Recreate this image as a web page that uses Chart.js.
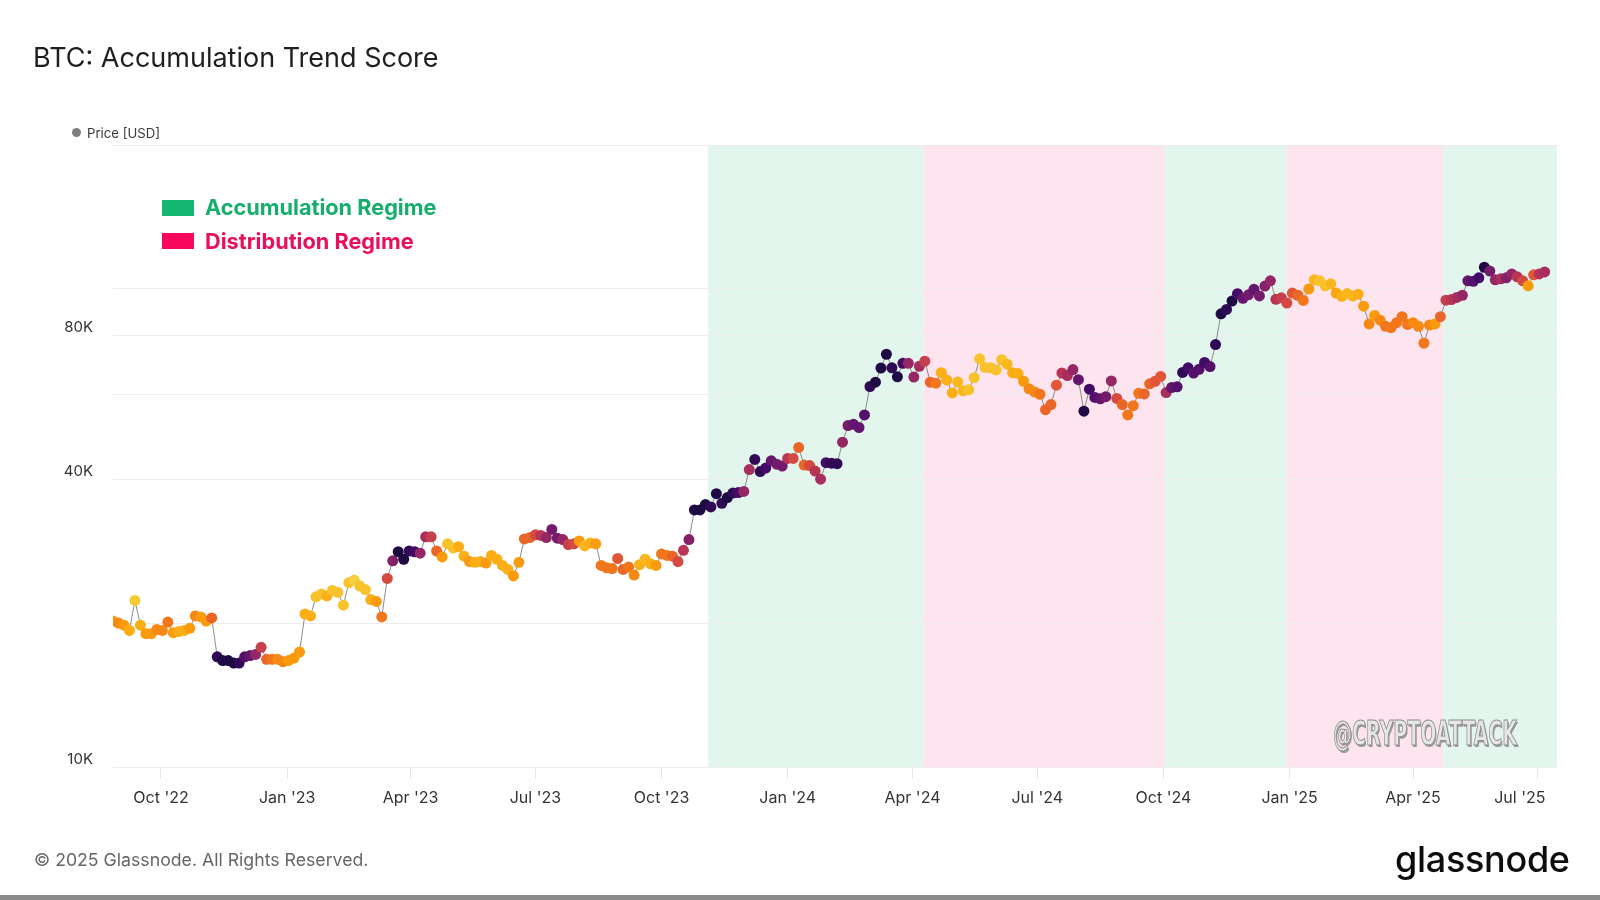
<!DOCTYPE html>
<html>
<head>
<meta charset="utf-8">
<title>BTC: Accumulation Trend Score</title>
<script src="https://cdn.jsdelivr.net/npm/chart.js@4.4.1/dist/chart.umd.min.js"></script>
<style>
  html, body { margin: 0; padding: 0; background: #fff; }
  body { width: 1600px; height: 900px; position: relative; overflow: hidden; font-family: Inter, "Noto Sans", sans-serif; }
  #chart { position: absolute; left: 0; top: 0; }
  .abs { position: absolute; white-space: nowrap; line-height: 1; }
  #title { left: 33px; top: 44px; font-size: 27px; font-weight: 400; color: #1f1f1f; }
  #priceDot { left: 72px; top: 128px; width: 9px; height: 9px; border-radius: 50%; background: #7f7f7f; }
  #priceKey { left: 87px; top: 127px; font-size: 13.2px; color: #3a3a3a; }
  .swatch { position: absolute; left: 162px; width: 32px; height: 16px; }
  .regime { left: 205px; font-size: 21.7px; font-weight: 700; }
  #footer { left: 34px; top: 851px; font-size: 17.7px; color: #666; }
  #logo { left: 1395px; top: 841px; font-size: 36px; font-weight: 500; color: #0d0d0d; letter-spacing: -0.3px; }
  #mark { left: 1333px; top: 716px; font-family: "DejaVu Sans Condensed", "DejaVu Sans", sans-serif; font-size: 34px; font-weight: 700;
          color: #e6e6e6; -webkit-text-stroke: 1px #8c8c8c; text-shadow: 2px 2px 0 #9a9a9a; transform-origin: 0 0; }
  #bottomBar { position: absolute; left: 0; top: 895px; width: 1600px; height: 5px; background: #8a8a8a; }
</style>
</head>
<body>
<canvas id="chart" width="1600" height="900"></canvas>
<div id="title" class="abs">BTC: Accumulation Trend Score</div>
<div id="priceDot" class="abs"></div>
<div id="priceKey" class="abs">Price [USD]</div>
<div class="swatch" style="top:200px;background:#14b872"></div>
<div class="swatch" style="top:233px;background:#f7085d"></div>
<div class="abs regime" style="top:197px;color:#17ad6c">Accumulation Regime</div>
<div class="abs regime" style="top:231px;color:#e80f5c">Distribution Regime</div>
<div id="mark" class="abs">@CRYPTOATTACK</div>
<div id="footer" class="abs">© 2025 Glassnode. All Rights Reserved.</div>
<div id="logo" class="abs">glassnode</div>
<div id="bottomBar"></div>
<script>
// one sample every 4 days, first sample 27 Aug 2022
var startDay = Date.UTC(2022, 7, 27);
var stepDays = 4;

// BTC price, thousands of USD
var price2022 = [20.2, 20.0, 19.8, 19.3, 22.3, 19.8, 19.0, 19.0, 19.4, 19.3,
                 20.1, 19.1, 19.2, 19.3, 19.5, 20.7, 20.6, 20.2, 20.5, 17.0,
                 16.7, 16.7, 16.5, 16.5, 17.0, 17.1, 17.2, 17.8, 16.8, 16.8,
                 16.8, 16.6];
var price2023 = [16.7, 16.9, 17.4, 20.9, 20.7, 22.7, 23.0, 22.8, 23.4, 23.2,
                 21.8, 24.3, 24.6, 23.9, 23.5, 22.4, 22.2, 20.6, 24.8, 27.0,
                 28.2, 27.2, 28.3, 28.2, 28.0, 30.3, 30.3, 28.3, 27.5, 29.3,
                 28.7, 28.9, 27.6, 26.9, 26.8, 26.9, 26.7, 27.7, 27.2, 26.4,
                 25.9, 25.1, 26.8, 30.0, 30.2, 30.6, 30.5, 30.2, 31.4, 30.1,
                 29.9, 29.2, 29.3, 29.7, 29.0, 29.4, 29.3, 26.4, 26.1, 26.0,
                 27.3, 25.9, 26.2, 25.2, 26.5, 27.2, 26.6, 26.4, 27.9, 27.7,
                 27.6, 26.9, 28.4, 29.9, 34.5, 34.5, 35.4, 35.0, 37.3, 35.6,
                 36.6, 37.4, 37.5, 37.7, 41.9, 44.0, 41.5, 42.2, 43.7, 43.0,
                 42.6];
var price2024 = [44.2, 44.2, 46.6, 42.8, 42.7, 41.6, 40.0, 43.3, 43.2, 43.1,
                 47.8, 51.8, 52.1, 51.3, 54.5, 62.5, 63.8, 68.3, 73.0, 68.4,
                 65.5, 69.9, 69.9, 65.4, 68.9, 70.6, 63.8, 63.5, 66.8, 64.5,
                 60.6, 63.9, 61.2, 61.5, 65.2, 71.4, 68.5, 68.4, 67.7, 71.1,
                 69.6, 66.8, 66.5, 64.1, 61.8, 60.9, 60.2, 55.9, 57.3, 62.9,
                 66.7, 65.9, 67.8, 64.6, 55.5, 61.7, 59.3, 58.9, 59.5, 64.2,
                 59.0, 57.3, 54.5, 57.0, 60.5, 60.3, 63.3, 64.1, 65.6, 60.7,
                 62.2, 62.4, 66.9, 68.4, 66.7, 67.9, 70.2, 68.8, 76.5, 88.7,
                 90.6, 94.3, 97.7, 95.6, 97.2, 99.8, 96.7, 101.4, 104.0, 95.1,
                 95.8, 93.4];
var price2025 = [98.0, 97.0, 94.6, 100.0, 104.5, 104.0, 101.5, 102.5, 98.0, 96.5,
                 97.8, 96.6, 97.5, 92.0, 84.5, 88.0, 86.0, 83.5, 83.0, 85.0,
                 87.5, 84.3, 85.0, 83.5, 77.0, 84.0, 84.5, 87.5, 94.7, 95.0,
                 96.0, 97.0, 104.0, 103.7, 105.5, 111.0, 109.0, 104.5, 105.0, 105.5,
                 107.5, 106.0, 104.0, 101.5, 107.0, 107.5, 108.5];

// accumulation trend score, 0 (distribution) .. 1 (accumulation)
var score2022 = [.15, .2, .15, .1, .03, .1, .15, .15, .2, .2,
                 .25, .15, .1, .1, .15, .2, .15, .15, .3, .9,
                 .95, .95, .95, .9, .8, .75, .6, .45, .3, .25,
                 .2, .2];
var score2023 = [.15, .15, .15, .1, .1, .05, .05, .1, .05, .05,
                 .05, .05, .02, .05, .05, .1, .15, .25, .4, .65,
                 .95, .95, .9, .85, .6, .55, .45, .3, .15, .05,
                 .05, .1, .1, .15, .1, .1, .15, .1, .1, .1,
                 .1, .15, .15, .3, .3, .4, .5, .6, .7, .7,
                 .6, .45, .4, .15, .08, .1, .15, .25, .25, .25,
                 .35, .3, .25, .2, .1, .08, .1, .15, .25, .25,
                 .3, .4, .5, .65, .95, .95, .95, .9, .95, .9,
                 .95, .9, .85, .6, .55, .9, .9, .85, .75, .7,
                 .7];
var score2024 = [.5, .4, .3, .3, .4, .5, .55, .85, .9, .9,
                 .6, .7, .75, .75, .8, .9, .95, .95, .95, .9,
                 .95, .85, .6, .6, .55, .45, .3, .25, .1, .1,
                 .1, .08, .08, .05, .05, .05, .05, .05, .05, .05,
                 .08, .1, .1, .15, .2, .2, .25, .3, .3, .35,
                 .5, .55, .6, .75, .95, .85, .8, .75, .7, .6,
                 .4, .3, .25, .25, .25, .3, .3, .35, .35, .55,
                 .75, .8, .9, .85, .8, .8, .85, .8, .9, .95,
                 .9, .95, .85, .75, .7, .75, .7, .65, .6, .5,
                 .45, .4];
var score2025 = [.35, .3, .25, .15, .08, .05, .05, .08, .12, .1,
                 .08, .08, .1, .15, .2, .15, .2, .25, .25, .25,
                 .25, .25, .2, .2, .25, .2, .15, .3, .45, .5,
                 .55, .6, .75, .8, .85, .95, .7, .6, .55, .65,
                 .6, .5, .4, .15, .35, .5, .55];

// shaded regimes: start dates, kinds; the last one runs to the right edge
var regimeStart = ['2023-11-04', '2024-04-09', '2024-10-02', '2024-12-30', '2025-04-23'];
var regimeKind = ['acc', 'dist', 'acc', 'dist', 'acc'];

var tickDates = ['2022-10-01', '2023-01-01', '2023-04-01', '2023-07-01', '2023-10-01', '2024-01-01',
                 '2024-04-01', '2024-07-01', '2024-10-01', '2025-01-01', '2025-04-01', '2025-07-01'];
var tickLabels = ["Oct '22", "Jan '23", "Apr '23", "Jul '23", "Oct '23", "Jan '24",
                  "Apr '24", "Jul '24", "Oct '24", "Jan '25", "Apr '25", "Jul '25"];

var yTicks = [10000, 20000, 40000, 60000, 80000, 100000, 200000];
var yLabels = {10000: '10K', 40000: '40K', 80000: '80K'};

var xMin = Date.UTC(2022, 7, 27);
var xMax = Date.UTC(2025, 6, 15);
var DAY = 86400000;

var prices = price2022.concat(price2023, price2024, price2025);
var scores = score2022.concat(score2023, score2024, score2025);

var points = prices.map(function (p, i) {
    return {x: startDay + i * stepDays * DAY, y: p * 1000};
});

// inferno-like ramp: high score dark, low score yellow
var inferno = [[0,0,4],[22,11,57],[66,10,104],[106,23,110],[147,38,103],[188,55,84],
               [221,81,58],[243,120,25],[252,165,10],[246,215,70],[252,255,164]];
function scoreColor(s) {
    var t = 0.08 + 0.82 * (1 - s);
    var f = t * 10;
    var i = Math.min(9, Math.floor(f));
    var k = f - i;
    var a = inferno[i], b = inferno[i + 1];
    return 'rgb(' + Math.round(a[0] + (b[0] - a[0]) * k) + ',' +
                    Math.round(a[1] + (b[1] - a[1]) * k) + ',' +
                    Math.round(a[2] + (b[2] - a[2]) * k) + ')';
}
var pointColors = scores.map(scoreColor);

var regimeBands = {
    id: 'regimeBands',
    beforeDraw: function (chart) {
        var ctx = chart.ctx, area = chart.chartArea, xs = chart.scales.x;
        ctx.save();
        for (var i = 0; i < regimeStart.length; i++) {
            var x0 = xs.getPixelForValue(Date.parse(regimeStart[i]));
            var x1 = i + 1 < regimeStart.length ? xs.getPixelForValue(Date.parse(regimeStart[i + 1])) : area.right;
            ctx.fillStyle = regimeKind[i] === 'acc' ? '#e3f6ee' : '#fde4ee';
            ctx.fillRect(x0, area.top, x1 - x0, area.bottom - area.top);
        }
        ctx.restore();
    }
};

new Chart(document.getElementById('chart'), {
    type: 'line',
    data: {
        datasets: [{
            label: 'Price [USD]',
            data: points,
            borderColor: '#8c8c8c',
            borderWidth: 1,
            pointRadius: 5.5,
            pointBorderWidth: 0,
            pointBackgroundColor: pointColors,
            tension: 0
        }]
    },
    options: {
        responsive: false,
        animation: false,
        layout: {padding: {left: 0, right: 43, top: 145, bottom: 0}},
        plugins: {legend: {display: false}, tooltip: {enabled: false}},
        scales: {
            x: {
                type: 'linear',
                min: xMin,
                max: xMax,
                border: {display: false},
                grid: {drawOnChartArea: false, drawTicks: true, tickLength: 12, color: '#e6e6e6'},
                ticks: {
                    autoSkip: false,
                    maxRotation: 0,
                    padding: 10,
                    color: '#333',
                    font: {family: 'Inter', size: 16},
                    callback: function (v, i) {
                        // last label sits a little left of its tick in the original
                        return i === tickLabels.length - 1 ? tickLabels[i] + '\u00a0\u00a0\u00a0\u00a0\u00a0\u00a0\u00a0\u00a0' : tickLabels[i];
                    }
                },
                afterBuildTicks: function (scale) {
                    scale.ticks = tickDates.map(function (d) { return {value: Date.parse(d)}; });
                },
                afterFit: function (scale) {
                    scale.height = 133;
                    scale.paddingLeft = 0;
                    scale.paddingRight = 0;
                }
            },
            y: {
                type: 'logarithmic',
                min: 10000,
                max: 200000,
                border: {display: false},
                grid: {drawTicks: false, color: '#ececec'},
                ticks: {
                    padding: 20,
                    labelOffset: -8,
                    color: '#333',
                    font: {family: 'Inter', size: 15},
                    callback: function (v) { return yLabels[v] || ''; }
                },
                afterBuildTicks: function (scale) {
                    scale.ticks = yTicks.map(function (v) { return {value: v}; });
                },
                afterFit: function (scale) {
                    scale.width = 113;
                }
            }
        }
    },
    plugins: [regimeBands]
});

// squeeze the watermark to its condensed width
var mark = document.getElementById('mark');
mark.style.transform = 'scaleX(' + (184 / mark.offsetWidth) + ')';
</script>
</body>
</html>
